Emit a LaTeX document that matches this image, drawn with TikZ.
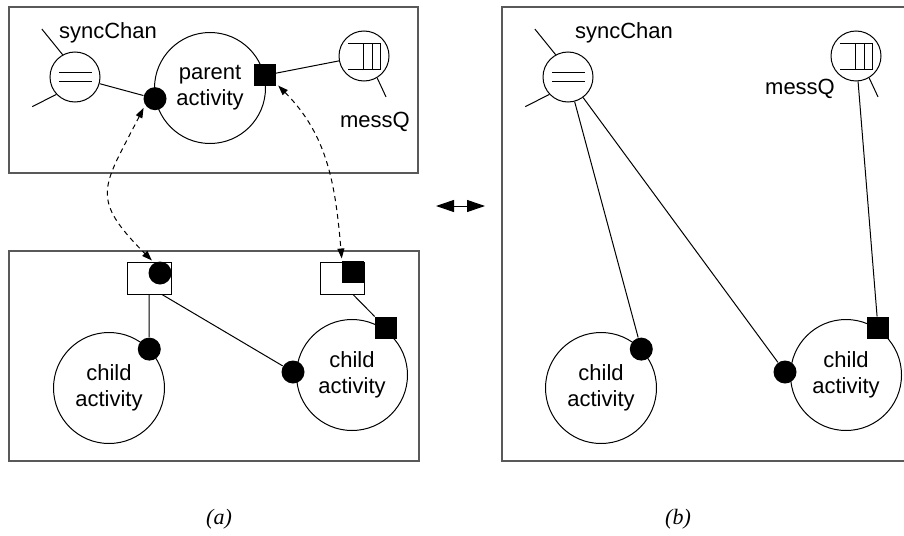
\documentclass[tikz,border=0pt]{standalone}
\usepackage{fontspec}
\setmainfont{Liberation Sans}
\newfontfamily\captionfont{Liberation Serif}
\usetikzlibrary{arrows.meta}

\begin{document}
\begin{tikzpicture}
        [x=1pt, y=-1pt, line width=1pt,
        activity/.style={circle, draw, minimum size=111pt, inner sep=0pt, align=center, font=\fontsize{22}{26}\selectfont},
        txt/.style={font=\fontsize{22}{26}\selectfont},
        chan/.style={circle, draw, minimum size=50pt, inner sep=0pt,
            path picture={
                \draw ([shift={(-16pt,4.5pt)}]path picture bounding box.center) -- ++(33pt,0pt);
                \draw ([shift={(-16pt,-4.5pt)}]path picture bounding box.center) -- ++(33pt,0pt);}},
        queue/.style={circle, draw, minimum size=50pt, inner sep=0pt,
            path picture={
                \draw ([shift={(-16pt,12pt)}]path picture bounding box.center) -- ++(32pt,0pt) -- ++(0pt,-25pt) -- ++(-32pt,0pt);
                \draw ([shift={(-1pt,12pt)}]path picture bounding box.center) -- ++(0pt,-25pt);
                \draw ([shift={(8pt,12pt)}]path picture bounding box.center) -- ++(0pt,-25pt);}},
        dot/.style={circle, fill, minimum size=23pt, inner sep=0pt},
        sqport/.style={rectangle, fill, minimum size=22pt, inner sep=0pt},
        stub/.style={rectangle, draw, minimum width=44pt, minimum height=32pt, inner sep=0pt},
        panel/.style={draw=black!65, line width=1.5pt},
        caption/.style={font=\captionfont\fontsize{22}{26}\selectfont\itshape},
        link/.style={dash pattern=on 5pt off 4pt, {Triangle[length=10pt,width=7pt]}-{Triangle[length=10pt,width=7pt]}, shorten <=3pt, shorten >=3pt},
        exch/.style={{Triangle[length=18pt,width=12pt]}-{Triangle[length=18pt,width=12pt]}}]

        \useasboundingbox (0,0) rectangle (904,535);

        % frames
        \draw[panel] (9,7) rectangle (418,173);
        \draw[panel] (9,251) rectangle (419,461);
        \draw[panel] (502,7) rectangle (906,461);

        % (a) parent side
        \node[activity] (pa) at (210,88) {parent\\activity};
        \node[chan] (sa) at (75,77) {};
        \node[queue] (ma) at (364,56) {};
        \node[dot] (pdot) at (pa.191) {};
        \node[sqport] (psq) at (pa.13) {};
        \node[txt] (sal) at (108,33) {syncChan};
        \node[txt] (mal) at (375,122) {messQ};

        % (a) child side
        \node[activity] (lca) at (109,388) {child\\activity};
        \node[activity] (rca) at (352,375) {child\\activity};
        \node[stub] (lp) at (149,278) {};
        \node[stub] (rp) at (342,278) {};
        \node[dot] (lpdot) at (160,273) {};
        \node[sqport] (rpsq) at (353,272) {};
        \node[dot] (lcdot) at (lca.44) {};
        \node[dot] (rcdot) at (293,372) {};
        \node[sqport] (rcsq) at (386,328) {};

        % (b)
        \node[chan] (sb) at (568,77) {};
        \node[queue] (mb) at (856,56) {};
        \node[txt] (sbl) at (624,33) {syncChan};
        \node[txt] (mbl) at (800,89) {messQ};
        \node[activity] (lcb) at (601,388) {child\\activity};
        \node[activity] (rcb) at (846,375) {child\\activity};
        \node[dot] (lcbdot) at (lcb.44) {};
        \node[dot] (rcbdot) at (785,372) {};
        \node[sqport] (rcbsq) at (878,328) {};

        % loose ends of the channels
        \draw (sa.119) -- ++(129:33pt);
        \draw (sa.223) -- ++(207:27pt);
        \draw (ma.-59) -- ++(-65:21pt);
        \draw (sb.119) -- ++(129:33pt);
        \draw (sb.223) -- ++(207:27pt);
        \draw (mb.-59) -- ++(-65:21pt);

        % bindings
        \draw (sa) -- (pdot);
        \draw (psq) -- (ma);
        \draw (lp.south) -- (lcdot);
        \draw ([xshift=13pt]lp.south) -- (rcdot);
        \draw ([xshift=11pt]rp.south) -- (rcsq);
        \draw (sb) -- (lcbdot);
        \draw (sb) -- (rcbdot);
        \draw (mb) -- (rcbsq);

        % port mapping (dashed)
        \draw[link] (pdot.213) to[out=-117, in=135, looseness=1.5] (lpdot.120);
        \draw[link] (psq.-35) to[out=-45, in=95] (rp.north);

        % equivalence arrow
        \coordinate (xl) at (436,206);
        \coordinate (xr) at (485,206);
        \draw[exch] (xl) -- (xr);

        % captions
        \node[caption] (capa) at (219,519) {(a)};
        \node[caption] (capb) at (678,519) {(b)};

    \end{tikzpicture}
\end{document}
